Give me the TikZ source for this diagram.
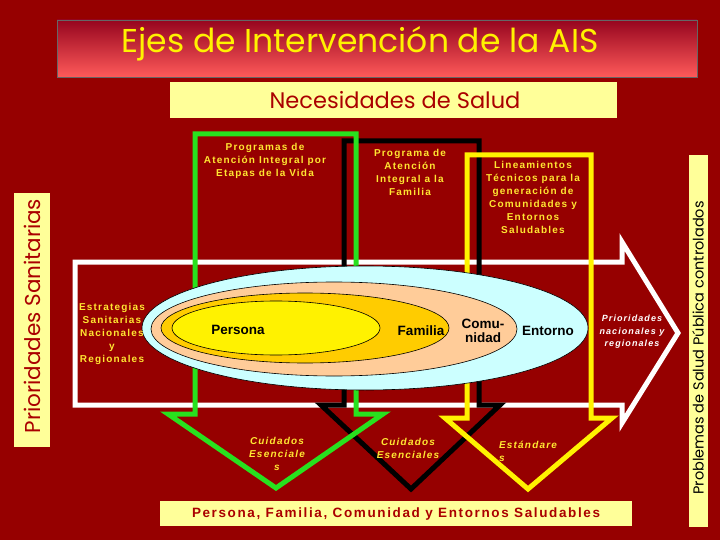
\documentclass[tikz,border=0pt]{standalone}
\usepackage{fontspec}
\setmainfont{Liberation Sans}
\newfontfamily\comicfont{Poppins}
\newfontfamily\spacedfont{Liberation Sans}[LetterSpace=12]
\definecolor{bgred}{RGB}{150,0,0}
\definecolor{titletop}{RGB}{150,5,30}
\definecolor{titlebot}{RGB}{255,90,90}
\definecolor{paleyellow}{RGB}{255,255,153}
\definecolor{darkred}{RGB}{170,0,0}
\definecolor{goldtext}{RGB}{255,230,50}
\definecolor{arrowgreen}{RGB}{40,225,30}
\definecolor{skyblue}{RGB}{204,255,255}
\definecolor{peach}{RGB}{255,204,153}
\definecolor{amber}{RGB}{255,204,0}
\usetikzlibrary{positioning}

\begin{document}
\begin{tikzpicture}[x=1pt,y=-1pt]
  \fill[bgred] (0,0) rectangle (720,540);
  \useasboundingbox (0,0) rectangle (720,540);

  % banners
  \shade[top color=titletop,bottom color=titlebot] (57,20) rectangle (697,77);
  \draw[black!60,line width=0.8] (57,20) rectangle (697,77);
  \fill[paleyellow] (170,82) rectangle (617,118);
  \fill[paleyellow] (14,193) rectangle (50,447);
  \fill[paleyellow] (689,155) rectangle (708,527);
  \fill[paleyellow] (160,501) rectangle (632,526);

  \begin{scope}[every node/.style={inner sep=0pt}]
  \node[text=yellow,font=\comicfont\fontsize{33}{36}\selectfont] (title) at (360,44) {Ejes de Intervención de la AIS};
  \node[text=darkred,font=\comicfont\fontsize{22.5}{26}\selectfont] (needs) at (395,100) {Necesidades de Salud};
  \node[text=darkred,rotate=90,font=\comicfont\fontsize{21.5}{24}\selectfont] (prior) at (32,316) {Prioridades Sanitarias};
  \node[text=black,rotate=90,font=\comicfont\fontsize{14.5}{16}\selectfont] (probs) at (698,348) {Problemas de Salud Pública controlados};
  \node[text=darkred,font=\spacedfont\bfseries\fontsize{13.5}{15}\selectfont] (bottom) at (396,514) {Persona, Familia, Comunidad y Entornos Saludables};
  \end{scope}

  % axis arrows
  \draw[white,line width=5,line join=miter] (75,262) -- (622,262) -- (622,242) -- (678,333)
    -- (622,423) -- (622,405) -- (75,405) -- cycle;
  \draw[black,line width=5,line join=miter] (344,141) -- (479,141) -- (479,405) -- (500,405)
    -- (411,489) -- (321,405) -- (344,405) -- cycle;
  \draw[arrowgreen,line width=5,line join=miter] (195,134) -- (356,134) -- (356,414) -- (383,414)
    -- (276,488) -- (168,414) -- (195,414) -- cycle;
  \draw[yellow,line width=5,line join=miter] (467,155) -- (591,155) -- (591,418) -- (612,418)
    -- (528,489) -- (445,418) -- (467,418) -- cycle;

  % nested circles
  \begin{scope}[every path/.style={draw=black,line width=0.6}]
  \path[fill=skyblue] (365,328) ellipse [x radius=223pt,y radius=62pt];
  \path[fill=peach] (334,329) ellipse [x radius=183pt,y radius=47pt];
  \path[fill=amber] (305,328) ellipse [x radius=144pt,y radius=35pt];
  \path[fill=yellow] (276,328) ellipse [x radius=104pt,y radius=27pt];
  \end{scope}

  \begin{scope}[every node/.style={align=center,inner sep=0pt,font=\spacedfont\bfseries\fontsize{10}{13}\selectfont,text=goldtext}]
  \node (etapas) at (265,161) {Programas de\\Atención Integral por\\Etapas de la Vida};
  \node (familiaprog) at (410,172) {Programa de\\Atención\\Integral a la\\Familia};
  \node (lineam) at (533,197) {Lineamientos\\Técnicos para la\\generación de\\Comunidades y\\Entornos\\Saludables};
  \node (estrat) at (112,334) {Estrategias\\Sanitarias\\Nacionales\\y\\Regionales};
  \node[font=\spacedfont\bfseries\itshape\fontsize{10}{13}\selectfont] (cuid1) at (277,454) {Cuidados\\Esenciale\\s};
  \node[font=\spacedfont\bfseries\itshape\fontsize{10}{13}\selectfont] (cuid2) at (408,448) {Cuidados\\Esenciales};
  \node[font=\spacedfont\bfseries\itshape\fontsize{10}{13}\selectfont,align=left] (estand) at (528,451) {Estándare\\s};
  \node[text=white,font=\spacedfont\bfseries\itshape\fontsize{9}{12.5}\selectfont] (priorreg) at (632,332) {Prioridades\\nacionales y\\regionales};
  \end{scope}

  \begin{scope}[every node/.style={align=center,inner sep=0pt,font=\bfseries\fontsize{13.5}{14}\selectfont,text=black}]
  \node (persona) at (238,330) {Persona};
  \node (familia) at (421,331) {Familia};
  \node (comunidad) at (483,331) {Comu-\\nidad};
  \node (entorno) at (548,331) {Entorno};
  \end{scope}
\end{tikzpicture}
\end{document}
